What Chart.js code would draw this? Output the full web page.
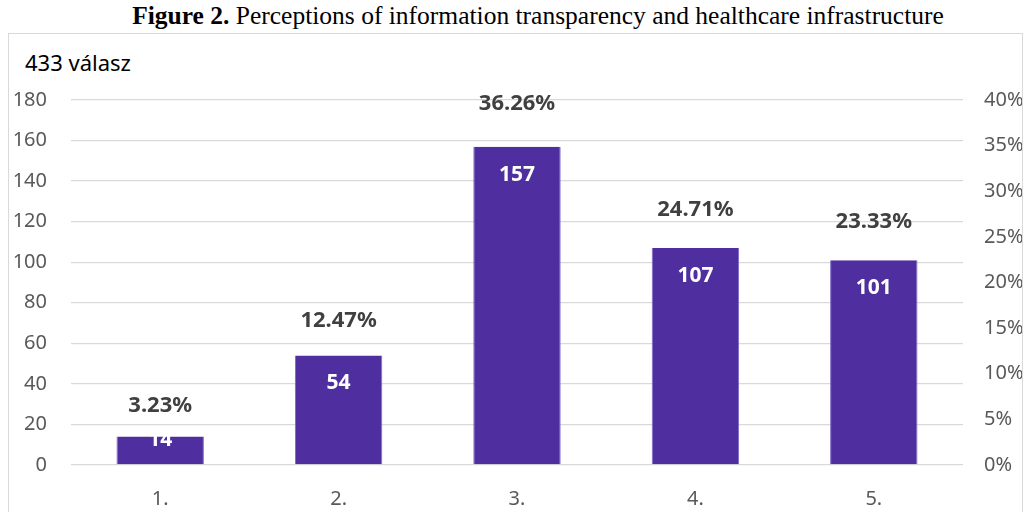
<!DOCTYPE html>
<html>
<head>
<meta charset="utf-8">
<script src="https://cdn.jsdelivr.net/npm/chart.js@4/dist/chart.umd.min.js"></script>
<style>
  body { margin: 0; background: #fff; width: 1029px; height: 512px; overflow: hidden; position: relative; }
  #title { position: absolute; left: 0; width: 1076px; top: 1px; text-align: center;
           font-family: "Liberation Serif", "Times New Roman", serif; font-size: 25.5px; color: #000; }
  #box { position: absolute; left: 8px; top: 33px; width: 1013px; height: 490px; border: 1px solid #d9d9d9; }
  #resp { position: absolute; left: 16px; top: 13px; font-family: "Noto Sans", sans-serif; font-size: 22px; color: #000; }
  #wrap { position: absolute; left: 0; top: 0; width: 1013px; height: 478px; }
</style>
</head>
<body>
<div id="title"><b>Figure 2.</b> Perceptions of information transparency and healthcare infrastructure</div>
<div id="box">
  <div id="resp">433 válasz</div>
  <div id="wrap"><canvas id="myChart"></canvas></div>
</div>
<script>
var categories = ["1.", "2.", "3.", "4.", "5."];
var counts = [14, 54, 157, 107, 101];
var percents = [3.23, 12.47, 36.26, 24.71, 23.33];

var font = "'Noto Sans', sans-serif";

// draws the counts inside the bars and the percentages above them
var labelPlugin = {
  id: 'barLabels',
  afterDatasetsDraw: function(chart) {
    var ctx = chart.ctx;
    var meta = chart.getDatasetMeta(0);
    var yScale = chart.scales.y;
    var pScale = chart.scales.y1;
    ctx.save();
    ctx.textAlign = 'center';
    ctx.textBaseline = 'middle';
    meta.data.forEach(function(bar, i) {
      var base = yScale.getPixelForValue(0);
      ctx.font = "bold 21px " + font;
      ctx.fillStyle = '#ffffff';
      ctx.fillText(String(counts[i]), bar.x, Math.min(bar.y + 28, base - 25));
      ctx.font = "bold 22px " + font;
      ctx.fillStyle = '#404040';
      ctx.fillText(percents[i].toFixed(2) + '%', bar.x, pScale.getPixelForValue(percents[i]) - 30);
    });
    ctx.restore();
  }
};

var ctx = document.getElementById("myChart").getContext('2d');

var myChart = new Chart(ctx, {
  type: 'bar',
  data: {
    labels: categories,
    datasets: [{
      data: counts,
      backgroundColor: '#4f2f9f',
      borderColor: '#7d66c8',
      borderWidth: { left: 1, right: 1, top: 0, bottom: 0 },
      borderSkipped: false,
      barPercentage: 0.49,
      categoryPercentage: 1
    }]
  },
  options: {
    responsive: true,
    maintainAspectRatio: false,
    animation: false,
    layout: { padding: { top: 66, left: 0, right: 0, bottom: 0 } },
    plugins: { legend: { display: false }, tooltip: { enabled: false } },
    scales: {
      x: {
        grid: { display: false },
        border: { display: false },
        ticks: { color: '#595959', font: { family: font, size: 20 }, padding: 14 },
        afterFit: function(s) { s.height = 47; }
      },
      y: {
        position: 'left',
        min: 0, max: 180,
        ticks: { stepSize: 20, color: '#595959', font: { family: font, size: 20 }, padding: 24 },
        grid: { color: '#d9d9d9', lineWidth: 1.3, drawTicks: false },
        border: { display: false },
        afterFit: function(s) { s.width = 62; }
      },
      y1: {
        position: 'right',
        min: 0, max: 40,
        ticks: { stepSize: 5, color: '#595959', font: { family: font, size: 20 }, padding: 21,
                 callback: function(v) { return v + '%'; } },
        grid: { display: false, drawTicks: false },
        border: { display: false },
        afterFit: function(s) { s.width = 59; }
      }
    }
  },
  plugins: [labelPlugin]
});
</script>
</body>
</html>
